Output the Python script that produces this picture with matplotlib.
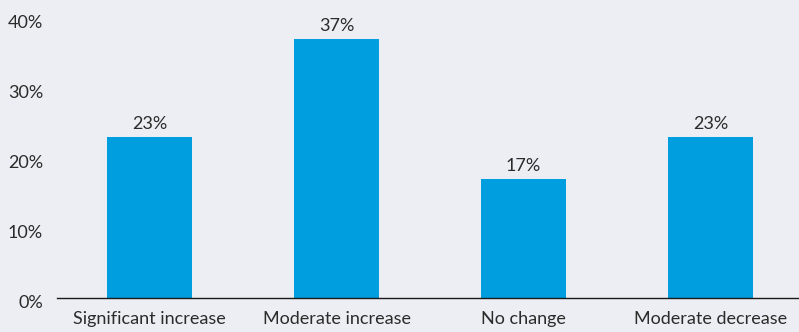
import matplotlib
matplotlib.use("Agg")
import matplotlib.pyplot as plt
from matplotlib.transforms import ScaledTranslation

categories = ["Significant increase", "Moderate increase", "No change", "Moderate decrease"]
values = [23, 37, 17, 23]
yticks = [0, 10, 20, 30, 40]
ytick_labels = ["0%", "10%", "20%", "30%", "40%"]

bg = "#EDEEF3"
bar_color = "#009DDF"
text_color = "#2B2B2B"

plt.rcParams["font.family"] = ["Lato", "DejaVu Sans"]

fig = plt.figure(figsize=(7.99, 3.32), dpi=100, facecolor=bg)
ax = fig.add_axes([57 / 799, 0.1039, 1 - 57 / 799, 0.947 - 0.1039])
ax.set_facecolor(bg)

x = list(range(len(categories)))
bars = ax.bar(x, values, width=0.45, color=bar_color)

for xi, v in zip(x, values):
    ax.text(xi, v + 0.6, f"{v}%", ha="center", va="bottom", fontsize=13, color=text_color)

ax.set_xlim(-0.495, 3.473)
ax.set_ylim(0, 40)
ax.set_yticks(yticks)
ax.set_yticklabels(ytick_labels)
ax.set_xticks(x)
ax.set_xticklabels(categories)
ax.tick_params(axis="both", length=0, labelsize=13, colors=text_color)
ax.tick_params(axis="y", pad=10)
ax.tick_params(axis="x", pad=10)

# nudge the y tick labels slightly below their gridline positions
shift = ScaledTranslation(0, -3 / 72, fig.dpi_scale_trans)
for lbl in ax.get_yticklabels():
    lbl.set_transform(lbl.get_transform() + shift)

for s in ["top", "right", "left"]:
    ax.spines[s].set_visible(False)
ax.spines["bottom"].set_color("#1A1A1A")
ax.spines["bottom"].set_linewidth(1.0)

fig.savefig("out.png", dpi=100, facecolor=bg)
